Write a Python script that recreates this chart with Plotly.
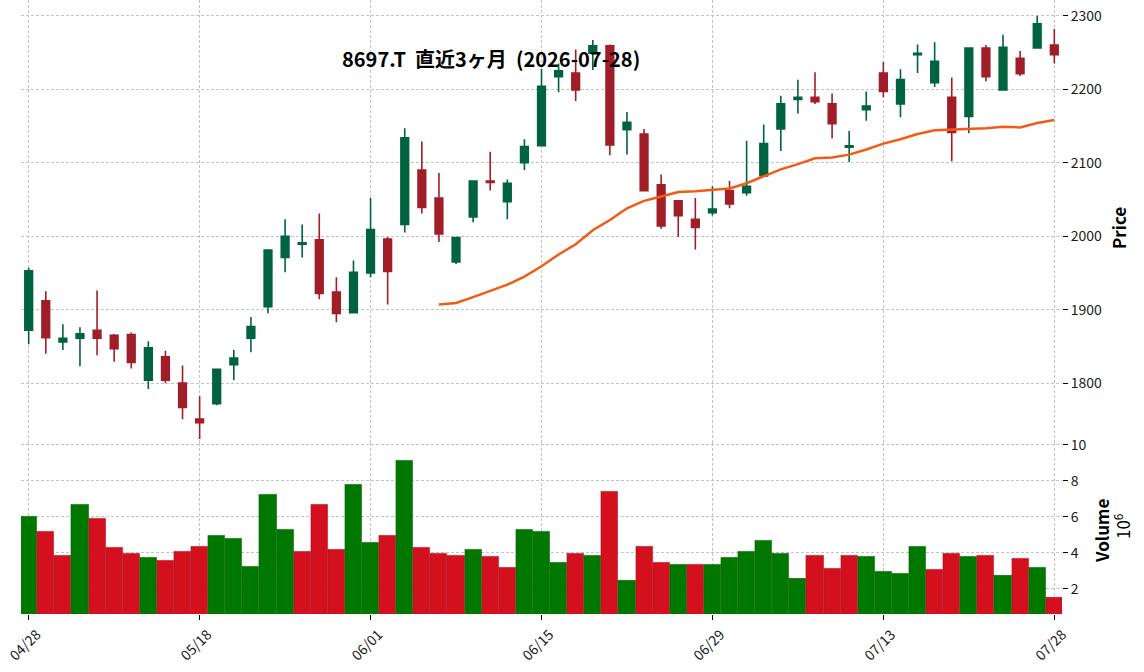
import plotly.graph_objects as go

# ---------------- data ----------------
dates = [
    "2026-04-28", "2026-04-30", "2026-05-01", "2026-05-07", "2026-05-08",
    "2026-05-11", "2026-05-12", "2026-05-13", "2026-05-14", "2026-05-15",
    "2026-05-18", "2026-05-19", "2026-05-20", "2026-05-21", "2026-05-22",
    "2026-05-25", "2026-05-26", "2026-05-27", "2026-05-28", "2026-05-29",
    "2026-06-01", "2026-06-02", "2026-06-03", "2026-06-04", "2026-06-05",
    "2026-06-08", "2026-06-09", "2026-06-10", "2026-06-11", "2026-06-12",
    "2026-06-15", "2026-06-16", "2026-06-17", "2026-06-18", "2026-06-19",
    "2026-06-22", "2026-06-23", "2026-06-24", "2026-06-25", "2026-06-26",
    "2026-06-29", "2026-06-30", "2026-07-01", "2026-07-02", "2026-07-03",
    "2026-07-06", "2026-07-07", "2026-07-08", "2026-07-09", "2026-07-10",
    "2026-07-13", "2026-07-14", "2026-07-15", "2026-07-16", "2026-07-17",
    "2026-07-21", "2026-07-22", "2026-07-23", "2026-07-24", "2026-07-27",
    "2026-07-28",
]
opens = [1872, 1912, 1856, 1861, 1872, 1865, 1866, 1804, 1836, 1800,
         1751, 1772, 1825, 1861, 1904, 1971, 1989, 1995, 1924, 1896,
         1950, 1996, 2016, 2090, 2052, 1965, 2026, 2075, 2047, 2100,
         2123, 2217, 2222, 2249, 2259, 2145, 2139, 2070, 2048, 2023,
         2032, 2062, 2059, 2082, 2146, 2186, 2189, 2180, 2121, 2172,
         2222, 2180, 2247, 2209, 2189, 2163, 2256, 2199, 2242, 2256,
         2260]
highs = [1957, 1925, 1880, 1876, 1926, 1867, 1869, 1857, 1844, 1824,
         1782, 1820, 1845, 1890, 1981, 2023, 2016, 2031, 1944, 1967,
         2052, 1999, 2147, 2129, 2086, 1998, 2075, 2115, 2077, 2132,
         2228, 2235, 2254, 2267, 2261, 2169, 2146, 2084, 2048, 2052,
         2068, 2075, 2130, 2152, 2191, 2213, 2223, 2194, 2143, 2197,
         2237, 2227, 2261, 2264, 2216, 2256, 2260, 2274, 2252, 2300,
         2282]
lows = [1853, 1840, 1845, 1823, 1838, 1829, 1820, 1792, 1800, 1751,
        1724, 1770, 1804, 1842, 1895, 1951, 1971, 1914, 1883, 1895,
        1944, 1907, 2005, 2031, 1992, 1962, 2019, 2062, 2023, 2090,
        2123, 2196, 2184, 2226, 2110, 2111, 2062, 2010, 1999, 1982,
        2028, 2038, 2055, 2082, 2116, 2167, 2180, 2133, 2101, 2157,
        2189, 2162, 2222, 2203, 2102, 2140, 2211, 2199, 2218, 2256,
        2235]
closes = [1953, 1862, 1861, 1867, 1861, 1847, 1828, 1848, 1804, 1767,
          1746, 1819, 1834, 1877, 1981, 2000, 1991, 1922, 1895, 1951,
          2009, 1952, 2134, 2039, 2003, 1998, 2075, 2073, 2072, 2122,
          2204, 2225, 2199, 2259, 2124, 2155, 2062, 2014, 2028, 2012,
          2037, 2044, 2068, 2126, 2180, 2189, 2183, 2153, 2123, 2177,
          2197, 2213, 2249, 2238, 2141, 2256, 2217, 2257, 2221, 2289,
          2247]
# volume in units of 10^6 shares
volumes = [6.04, 5.21, 3.88, 6.71, 5.93, 4.27, 3.99, 3.72, 3.60, 4.05,
           4.33, 4.94, 4.77, 3.27, 7.26, 5.27, 4.10, 6.71, 4.16, 7.82,
           4.60, 4.94, 9.15, 4.27, 3.99, 3.83, 4.16, 3.77, 3.16, 5.27,
           5.16, 3.49, 3.99, 3.88, 7.43, 2.44, 4.33, 3.44, 3.38, 3.33,
           3.33, 3.72, 4.10, 4.71, 3.99, 2.55, 3.88, 3.11, 3.83, 3.77,
           2.94, 2.83, 4.38, 3.05, 3.94, 3.77, 3.83, 2.72, 3.66, 3.16,
           1.50]
# 25-day moving average (first 24 days undefined)
ma25 = [None] * 24 + [
    1907, 1909, 1917, 1926, 1934, 1945, 1959, 1975, 1989, 2008,
    2022, 2038, 2048, 2054, 2060, 2061, 2063, 2065, 2072, 2082,
    2091, 2098, 2106, 2107, 2111, 2118, 2126, 2132, 2139, 2144,
    2145, 2147, 2147, 2149, 2148, 2154, 2158]

tick_dates = ["2026-04-28", "2026-05-18", "2026-06-01", "2026-06-15",
              "2026-06-29", "2026-07-13", "2026-07-28"]
tick_labels = ["04/28", "05/18", "06/01", "06/15", "06/29", "07/13", "07/28"]
price_ticks = [1800, 1900, 2000, 2100, 2200, 2300]
volume_ticks = [2, 4, 6, 8, 10]
title_text = "8697.T\u00a0\u00a0直近3ヶ月\u00a0\u00a0(2026-07-28)"

# ---------------- style ----------------
FONT = "Noto Sans CJK JP"
UP_C, DOWN_C = "#006340", "#a01e28"
VUP_C, VDOWN_C = "#007800", "#d4101e"
MA_C = "#f25a16"
GRID_C = "#c4c4c4"

W, H = 1144, 672
L, R, T, B = 21, 82, 0, 58
plot_w = W - L - R
plot_h = H - T - B
split_px = 443.4  # y pixel where price panel meets volume panel
split = (plot_h - (split_px - T)) / plot_h


def px_x(x):
    return (x - L) / plot_w


def px_y(y):
    return (plot_h - (y - T)) / plot_h


vol_colors = []
for i, c in enumerate(closes):
    up = (c >= opens[i]) if i == 0 else (c >= closes[i - 1])
    vol_colors.append(VUP_C if up else VDOWN_C)

fig = go.Figure()
fig.add_trace(go.Candlestick(
    x=dates, open=opens, high=highs, low=lows, close=closes,
    increasing=dict(line=dict(color=UP_C, width=1.6), fillcolor=UP_C),
    decreasing=dict(line=dict(color=DOWN_C, width=1.6), fillcolor=DOWN_C),
    whiskerwidth=0, xaxis="x", yaxis="y", showlegend=False,
))
fig.add_trace(go.Scatter(
    x=dates, y=ma25, mode="lines", line=dict(color=MA_C, width=2.5),
    xaxis="x", yaxis="y", showlegend=False, connectgaps=False,
))
fig.add_trace(go.Bar(
    x=dates, y=volumes, marker=dict(color=vol_colors,
                                    line=dict(color="rgba(0,0,0,0.25)", width=0.5)),
    width=1.0, xaxis="x", yaxis="y2", showlegend=False,
))

tickfont = dict(family=FONT, size=14, color="#1a1a1a")
fig.update_layout(
    width=W, height=H,
    margin=dict(l=L, r=R, t=T, b=B, pad=0, autoexpand=False),
    paper_bgcolor="white", plot_bgcolor="white",
    font=dict(family=FONT),
    boxgap=0.36,
    bargap=0,
    xaxis=dict(
        type="category", range=[-0.45, 60.45], anchor="y2", automargin=False,
        tickmode="array", tickvals=tick_dates, ticktext=tick_labels,
        tickangle=-45, ticks="outside", ticklen=5, tickcolor="#000",
        ticklabelshift=8, ticklabelstandoff=1,
        tickfont=dict(family=FONT, size=14, color="#1a1a1a"),
        showgrid=True, gridcolor=GRID_C, griddash="3px,2px", gridwidth=0.8,
        showline=False, zeroline=False,
        rangeslider=dict(visible=False),
    ),
    yaxis=dict(
        domain=[split, 1.0], side="right", anchor="x", automargin=False,
        range=[1718, 2321.4], tickmode="array", tickvals=price_ticks,
        ticks="outside", ticklen=5, tickcolor="#000", tickfont=tickfont,
        showgrid=True, gridcolor=GRID_C, griddash="3px,2px", gridwidth=0.8,
        showline=False, zeroline=False,
    ),
    yaxis2=dict(
        domain=[0, split], side="right", anchor="x", automargin=False,
        range=[0.6, 10.07], tickmode="array", tickvals=volume_ticks,
        ticks="outside", ticklen=5, tickcolor="#000", tickfont=tickfont,
        showgrid=True, gridcolor=GRID_C, griddash="3px,2px", gridwidth=0.8,
        showline=False, zeroline=False,
    ),
    annotations=[
        dict(text="<b>" + title_text + "</b>", x=px_x(491), y=px_y(58),
             xref="paper", yref="paper", xanchor="center", yanchor="middle",
             showarrow=False, font=dict(family=FONT, size=20, color="#000")),
        dict(text="<b>Price</b>", x=px_x(1118), y=px_y(228),
             xref="paper", yref="paper", xanchor="center", yanchor="middle",
             textangle=-90, showarrow=False,
             font=dict(family=FONT, size=17, color="#000")),
        dict(text="<b>Volume</b>", x=px_x(1101), y=px_y(531),
             xref="paper", yref="paper", xanchor="center", yanchor="middle",
             textangle=-90, showarrow=False,
             font=dict(family=FONT, size=17, color="#000")),
        dict(text="10<sup>6</sup>", x=px_x(1122), y=px_y(526),
             xref="paper", yref="paper", xanchor="center", yanchor="middle",
             textangle=-90, showarrow=False,
             font=dict(family=FONT, size=17, color="#000")),
    ],
)

fig.write_html("out.html")
